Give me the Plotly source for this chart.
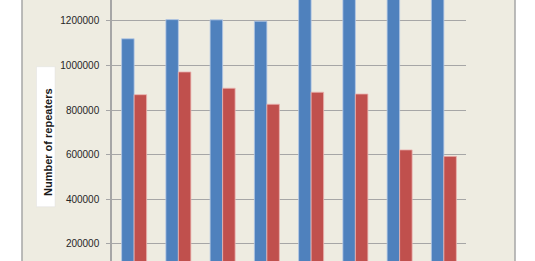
import plotly.graph_objects as go

# Data (last four blue bars exceed the visible top, estimated)
categories = ["G1", "G2", "G3", "G4", "G5", "G6", "G7", "G8"]
series_a = [1120000, 1206000, 1205000, 1199000, 1350000, 1380000, 1400000, 1420000]
series_b = [869000, 971000, 898000, 826000, 880000, 872000, 621000, 592000]
y_title = "Number of repeaters"

W, H = 535, 261
L, R = 112, 466
BEIGE = "#EEECE1"
GRID = "#A6A6A6"

def px_x(p):
    return (p - L) / (R - L)

def px_y(p):
    return 1 - p / H

fig = go.Figure()
fig.add_trace(go.Bar(x=categories, y=series_a, name="A",
                     marker=dict(color="#4F81BD", line=dict(color="rgba(180,200,230,0.8)", width=1))))
fig.add_trace(go.Bar(x=categories, y=series_b, name="B",
                     marker=dict(color="#C0504D", line=dict(color="rgba(235,180,178,0.8)", width=1))))

# y range chosen to reproduce the visible crop window
fig.update_layout(
    width=W, height=H,
    margin=dict(l=L, r=W - R, t=0, b=0),
    paper_bgcolor="white",
    plot_bgcolor=BEIGE,
    barmode="group",
    bargap=0.435,
    bargroupgap=0,
    showlegend=False,
    font=dict(family="Liberation Sans", size=10, color="#262626"),
    xaxis=dict(showticklabels=False, showgrid=False, zeroline=False,
               range=[-0.5, 7.5], fixedrange=True),
    yaxis=dict(range=[122137, 1294119], dtick=200000, tick0=0, tickformat="d",
               showgrid=True, gridcolor=GRID, gridwidth=1,
               showline=True, linecolor=GRID, linewidth=1.5,
               ticks="outside", ticklen=4, tickcolor=GRID, tickwidth=1,
               ticklabelstandoff=5, zeroline=False,
               tickfont=dict(family="Liberation Sans", size=10, color="#262626")),
    shapes=[
        dict(type="rect", xref="paper", yref="paper", layer="below",
             x0=px_x(22), x1=px_x(515), y0=-0.1, y1=1.1,
             fillcolor=BEIGE, line=dict(color="#A6A6A6", width=1.5)),
        dict(type="rect", xref="paper", yref="paper", layer="above",
             x0=px_x(36.5), x1=px_x(55), y0=px_y(206.7), y1=px_y(66.7),
             fillcolor="white", line=dict(color="#E0E0E0", width=0.5)),
    ],
    annotations=[
        dict(text="<b>" + y_title + "</b>", xref="paper", yref="paper",
             x=px_x(47.5), y=px_y(142.5), textangle=-90, showarrow=False,
             xanchor="center", yanchor="middle",
             font=dict(family="Liberation Sans", size=11, color="#1a1a1a")),
    ],
)

fig.write_html("out.html")
